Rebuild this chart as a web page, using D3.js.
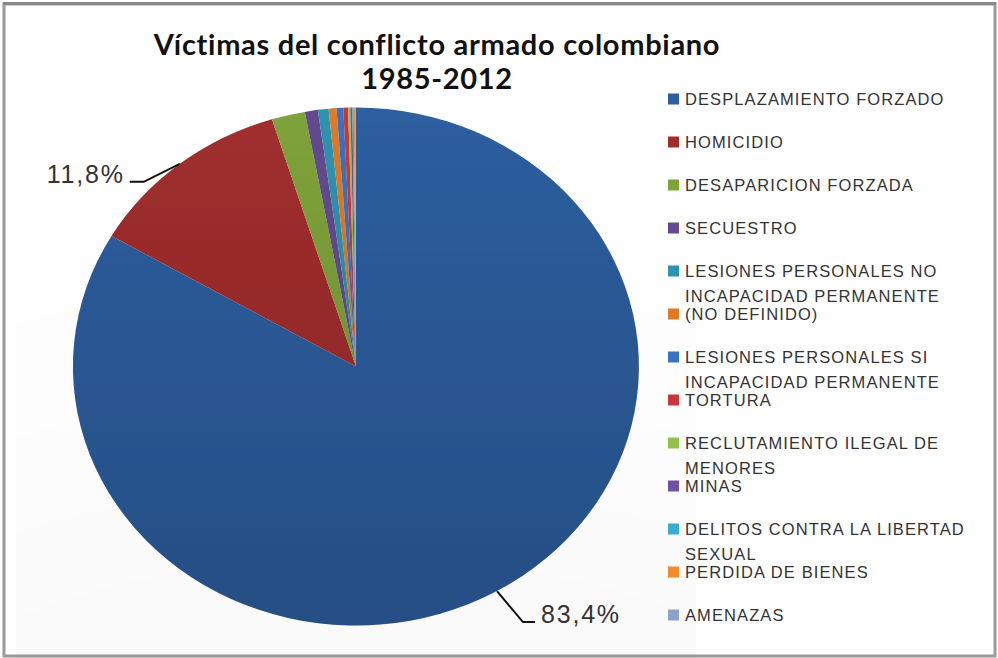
<!DOCTYPE html>
<meta charset="utf-8">
<style>
body { margin: 0; background: #fff; }
.legend text { font-family: "Liberation Sans", Arial, sans-serif; font-size: 16.5px; fill: #333; letter-spacing: 1.1px; }
.label { font-family: "Liberation Sans", Arial, sans-serif; font-size: 25px; fill: #333; letter-spacing: 1.8px; }
.title { font-family: Lato, "Open Sans", sans-serif; font-weight: bold; font-size: 29px; fill: #111; letter-spacing: 0.7px; }
</style>
<svg width="998" height="658"></svg>
<script src="https://d3js.org/d3.v7.min.js"></script>
<script>
// categories, shares (%) and colours
var categories = [
  "DESPLAZAMIENTO FORZADO",
  "HOMICIDIO",
  "DESAPARICION FORZADA",
  "SECUESTRO",
  "LESIONES PERSONALES NO|INCAPACIDAD PERMANENTE",
  "(NO DEFINIDO)",
  "LESIONES PERSONALES SI|INCAPACIDAD PERMANENTE",
  "TORTURA",
  "RECLUTAMIENTO ILEGAL DE|MENORES",
  "MINAS",
  "DELITOS CONTRA LA LIBERTAD|SEXUAL",
  "PERDIDA DE BIENES",
  "AMENAZAS"
];
var values = [83.4, 11.8, 1.9, 0.75, 0.6, 0.45, 0.38, 0.28, 0.12, 0.12, 0.08, 0.08, 0.04];
var colors = ["#2d5e9f", "#a12e2e", "#7fa23a", "#634a8f", "#2e93b0", "#df7a25",
              "#3a72c0", "#c8383a", "#93c24c", "#6f52a3", "#39acd0", "#f48a2b", "#8fa1c9"];
var labelText = ["83,4%", "11,8%"];

var svg = d3.select("svg");

// frame
svg.append("rect").attr("x", 4).attr("y", 4).attr("width", 991).attr("height", 652)
  .attr("fill", "#fff").attr("stroke", "#9a9a9a").attr("stroke-width", 3);
svg.append("line").attr("x1", 3).attr("x2", 996).attr("y1", 3.5).attr("y2", 3.5)
  .attr("stroke", "#888").attr("stroke-width", 3);

// title
svg.append("text").attr("class", "title").attr("x", 437).attr("y", 55)
  .attr("text-anchor", "middle").text("Víctimas del conflicto armado colombiano");
svg.append("text").attr("class", "title").attr("x", 437).attr("y", 89)
  .attr("text-anchor", "middle").text("1985-2012");

// pie is a bit stretched horizontally in the picture
var cx = 356, cy = 366.5, rx = 283, ry = 259;

var defs = svg.append("defs");
var f = defs.append("filter").attr("id", "shadow").attr("x", "-10%").attr("y", "-10%")
  .attr("width", "120%").attr("height", "125%");
f.append("feDropShadow").attr("dx", 0).attr("dy", 4).attr("stdDeviation", 4)
  .attr("flood-color", "#000").attr("flood-opacity", 0.45);
var g1 = defs.append("linearGradient").attr("id", "shade").attr("x1", 0).attr("y1", 0).attr("x2", 0).attr("y2", 1);
g1.append("stop").attr("offset", "0%").attr("stop-color", "#000").attr("stop-opacity", 0);
g1.append("stop").attr("offset", "100%").attr("stop-color", "#000").attr("stop-opacity", 0.17);

var pie = d3.pie().sort(null).value(function(d) { return d; });
var arcs = pie(values);
var arc = d3.arc().innerRadius(0).outerRadius(1);

var pg = svg.append("g").attr("filter", "url(#shadow)")
  .attr("transform", "translate(" + cx + "," + cy + ") scale(" + rx + "," + ry + ")");
pg.selectAll("path").data(arcs).enter().append("path")
  .attr("d", arc)
  .attr("fill", function(d, i) { return colors[i]; });
pg.append("ellipse").attr("rx", 1).attr("ry", 1).attr("fill", "url(#shade)");

// data labels with leader lines
var labelOffsets = [[26, 31, 12], [-36, 18, -14]];
arcs.slice(0, 2).forEach(function(d, i) {
  var a = (d.startAngle + d.endAngle) / 2;
  var x0 = cx + rx * Math.sin(a), y0 = cy - ry * Math.cos(a);
  var o = labelOffsets[i];
  var x1 = x0 + o[0], y1 = y0 + o[1], x2 = x1 + o[2];
  svg.append("path").attr("d", "M" + x0 + "," + y0 + "L" + x1 + "," + y1 + "L" + x2 + "," + y1)
    .attr("fill", "none").attr("stroke", "#111").attr("stroke-width", 2);
  svg.append("text").attr("class", "label")
    .attr("x", o[2] > 0 ? x2 + 6 : x2 - 5).attr("y", y1 - 8).attr("dy", "0.35em")
    .attr("text-anchor", o[2] > 0 ? "start" : "end")
    .text(labelText[i]);
});

// legend
var ly = d3.scalePoint().domain(categories).range([99, 615]);
var leg = svg.append("g").attr("class", "legend").selectAll("g").data(categories).enter().append("g")
  .attr("transform", function(d) { return "translate(668," + ly(d) + ")"; });
leg.append("rect").attr("x", 0).attr("y", -5.5).attr("width", 11).attr("height", 11)
  .attr("fill", function(d, i) { return colors[i]; });
leg.each(function(d) {
  var g = d3.select(this);
  d.split("|").forEach(function(line, k) {
    g.append("text").attr("x", 17).attr("y", k * 25).attr("dy", "0.36em").text(line);
  });
});
</script>
